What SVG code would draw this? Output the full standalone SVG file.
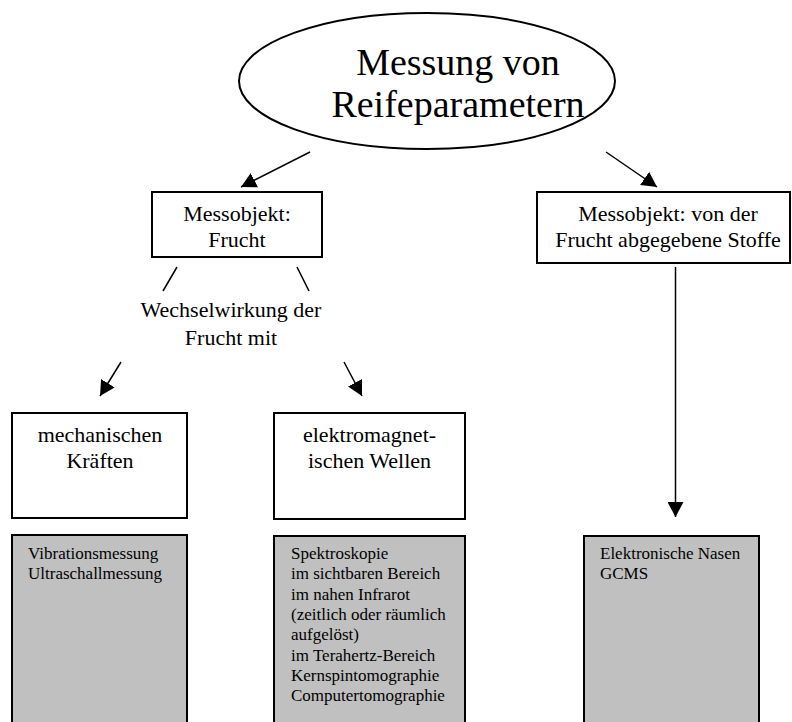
<svg xmlns="http://www.w3.org/2000/svg" width="792" height="722" viewBox="0 0 792 722">
<style>
  text { font-family: "Liberation Serif", "Times New Roman", serif; fill: #000; }
  .big { font-size: 38px; text-anchor: middle; }
  .mid { font-size: 22px; text-anchor: middle; }
  .small { font-size: 17px; }
  .box { fill: #fff; stroke: #000; stroke-width: 2; }
  .gray { fill: #c0c0c0; stroke: #000; stroke-width: 2; }
  .conn { stroke: #000; stroke-width: 1.5; fill: none; }
  .arr { marker-end: url(#ah); }
</style>
<defs>
  <marker id="ah" markerUnits="userSpaceOnUse" markerWidth="16" markerHeight="16" viewBox="0 0 16 16" refX="15" refY="8" orient="auto">
    <path d="M0,0 L15,8 L0,16 Z" fill="#000"/>
  </marker>
</defs>
<rect width="792" height="722" fill="#fff"/>

<g id="root">
  <ellipse cx="427" cy="81" rx="188" ry="68" fill="#fff" stroke="#000" stroke-width="2"/>
  <text class="big" x="458" y="75">Messung von</text>
  <text class="big" x="458" y="117">Reifeparametern</text>
</g>

<g id="frucht">
  <rect class="box" x="152" y="192" width="170" height="65"/>
  <text class="mid" x="237" y="221">Messobjekt:</text>
  <text class="mid" x="237" y="247">Frucht</text>
</g>

<g id="stoffe">
  <rect class="box" x="537" y="192" width="253" height="71"/>
  <text class="mid" x="668" y="221">Messobjekt: von der</text>
  <text class="mid" x="668" y="247">Frucht abgegebene Stoffe</text>
</g>

<g id="wechsel">
  <text class="mid" x="231" y="317">Wechselwirkung der</text>
  <text class="mid" x="231" y="345">Frucht mit</text>
</g>

<g id="mechanisch">
  <rect class="box" x="12" y="413" width="175" height="105"/>
  <text class="mid" x="100" y="442">mechanischen</text>
  <text class="mid" x="100" y="468">Kräften</text>
</g>

<g id="elektro">
  <rect class="box" x="274" y="413" width="191" height="106"/>
  <text class="mid" x="369.5" y="442">elektromagnet-</text>
  <text class="mid" x="369.5" y="468">ischen Wellen</text>
</g>

<g id="methoden-mech">
  <rect class="gray" x="12" y="535" width="175" height="200"/>
  <text class="small" x="28" y="559">Vibrationsmessung</text>
  <text class="small" x="28" y="579">Ultraschallmessung</text>
</g>

<g id="methoden-elektro">
  <rect class="gray" x="274" y="536" width="191" height="200"/>
  <text class="small" x="291" y="559">Spektroskopie</text>
  <text class="small" x="291" y="579.3">im sichtbaren Bereich</text>
  <text class="small" x="291" y="599.6">im nahen Infrarot</text>
  <text class="small" x="291" y="619.9">(zeitlich oder räumlich</text>
  <text class="small" x="291" y="640.2">aufgelöst)</text>
  <text class="small" x="291" y="660.5">im Terahertz-Bereich</text>
  <text class="small" x="291" y="680.8">Kernspintomographie</text>
  <text class="small" x="291" y="701.1">Computertomographie</text>
</g>

<g id="methoden-stoffe">
  <rect class="gray" x="584" y="536" width="175" height="200"/>
  <text class="small" x="600" y="559">Elektronische Nasen</text>
  <text class="small" x="600" y="579">GCMS</text>
</g>

<g id="connectors">
  <line class="conn arr" x1="310" y1="152" x2="241" y2="187"/>
  <line class="conn arr" x1="606" y1="152" x2="657" y2="187"/>
  <line class="conn" x1="177" y1="267" x2="163" y2="291"/>
  <line class="conn" x1="297" y1="267" x2="309" y2="291"/>
  <line class="conn arr" x1="121" y1="362" x2="100" y2="396"/>
  <line class="conn arr" x1="344" y1="362" x2="362" y2="396"/>
  <line class="conn arr" x1="675.5" y1="267" x2="675.5" y2="517"/>
</g>
</svg>
